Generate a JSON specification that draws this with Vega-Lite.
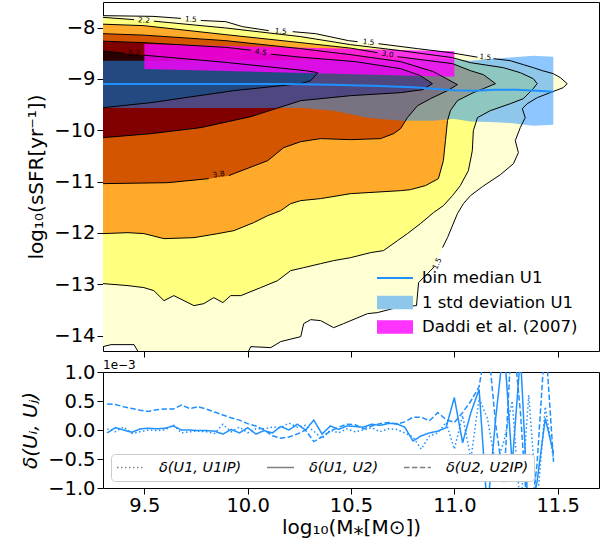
{
  "$schema": "https://vega.github.io/schema/vega-lite/v6.json",
  "padding": {"left": 20, "top": 1, "right": 14, "bottom": 2},
  "bounds": "flush",
  "spacing": 21,
  "config": {
    "font": "DejaVu Sans",
    "view": {"stroke": "#000000", "strokeWidth": 1},
    "axis": {"grid": false, "domain": false, "tickColor": "#000000", "tickSize": 6, "tickWidth": 1, "labelColor": "#000000", "labelFont": "DejaVu Sans", "labelFontSize": 19.5, "labelPadding": 2, "titleFont": "DejaVu Sans", "titleFontSize": 20, "titleFontWeight": "normal", "titleColor": "#000000", "titlePadding": 7, "labelFlush": false, "labelOverlap": false},
    "legend": {"labelFont": "DejaVu Sans", "labelColor": "#000000", "labelLimit": 400}
  },
  "datasets": {
    "poly": [
      {"lev":1,"i":0,"seg":0,"x":9.3,"y":-7.766},{"lev":1,"i":1,"seg":0,"x":9.542,"y":-7.78},{"lev":1,"i":2,"seg":0,"x":9.677,"y":-7.819},
      {"lev":1,"i":3,"seg":1,"x":9.773,"y":-7.86},{"lev":1,"i":4,"seg":1,"x":9.894,"y":-7.883},{"lev":1,"i":5,"seg":1,"x":9.976,"y":-7.981},{"lev":1,"i":6,"seg":1,"x":10.102,"y":-8.058},
      {"lev":1,"i":7,"seg":2,"x":10.218,"y":-8.078},{"lev":1,"i":8,"seg":2,"x":10.329,"y":-8.117},{"lev":1,"i":9,"seg":2,"x":10.488,"y":-8.253},{"lev":1,"i":10,"seg":2,"x":10.532,"y":-8.273},
      {"lev":1,"i":11,"seg":3,"x":10.633,"y":-8.312},{"lev":1,"i":12,"seg":3,"x":10.822,"y":-8.409},{"lev":1,"i":13,"seg":3,"x":10.981,"y":-8.487},{"lev":1,"i":14,"seg":3,"x":11.112,"y":-8.575},
      {"lev":1,"i":15,"seg":4,"x":11.189,"y":-8.604},{"lev":1,"i":16,"seg":4,"x":11.271,"y":-8.643},{"lev":1,"i":17,"seg":4,"x":11.334,"y":-8.721},{"lev":1,"i":18,"seg":4,"x":11.382,"y":-8.779},
      {"lev":1,"i":19,"seg":4,"x":11.426,"y":-8.838},{"lev":1,"i":20,"seg":4,"x":11.479,"y":-8.896},{"lev":1,"i":21,"seg":4,"x":11.513,"y":-8.974},{"lev":1,"i":22,"seg":4,"x":11.546,"y":-9.091},
      {"lev":1,"i":23,"seg":4,"x":11.527,"y":-9.169},{"lev":1,"i":24,"seg":4,"x":11.464,"y":-9.266},{"lev":1,"i":25,"seg":4,"x":11.401,"y":-9.364},{"lev":1,"i":26,"seg":4,"x":11.353,"y":-9.481},
      {"lev":1,"i":27,"seg":4,"x":11.329,"y":-9.578},{"lev":1,"i":28,"seg":4,"x":11.343,"y":-9.753},{"lev":1,"i":29,"seg":4,"x":11.319,"y":-9.948},{"lev":1,"i":30,"seg":4,"x":11.295,"y":-10.201},
      {"lev":1,"i":31,"seg":4,"x":11.31,"y":-10.435},{"lev":1,"i":32,"seg":4,"x":11.286,"y":-10.65},{"lev":1,"i":33,"seg":4,"x":11.223,"y":-10.864},{"lev":1,"i":34,"seg":4,"x":11.136,"y":-11.098},
      {"lev":1,"i":35,"seg":4,"x":11.078,"y":-11.273},{"lev":1,"i":36,"seg":4,"x":11.044,"y":-11.429},{"lev":1,"i":37,"seg":4,"x":11.015,"y":-11.624},{"lev":1,"i":38,"seg":4,"x":10.967,"y":-12.091},
      {"lev":1,"i":39,"seg":4,"x":10.943,"y":-12.286},
      {"lev":1,"i":40,"seg":5,"x":10.904,"y":-12.656},{"lev":1,"i":41,"seg":5,"x":10.87,"y":-12.793},{"lev":1,"i":42,"seg":5,"x":10.827,"y":-12.968},{"lev":1,"i":43,"seg":5,"x":10.817,"y":-13.416},
      {"lev":1,"i":44,"seg":5,"x":10.74,"y":-13.435},{"lev":1,"i":45,"seg":5,"x":10.628,"y":-13.552},{"lev":1,"i":46,"seg":5,"x":10.58,"y":-13.572},{"lev":1,"i":47,"seg":5,"x":10.464,"y":-13.767},
      {"lev":1,"i":48,"seg":5,"x":10.416,"y":-13.845},{"lev":1,"i":49,"seg":5,"x":10.353,"y":-13.708},{"lev":1,"i":50,"seg":5,"x":10.305,"y":-13.689},{"lev":1,"i":51,"seg":5,"x":10.271,"y":-13.767},
      {"lev":1,"i":52,"seg":5,"x":10.257,"y":-14.02},{"lev":1,"i":53,"seg":5,"x":10.16,"y":-14.117},{"lev":1,"i":54,"seg":5,"x":10.112,"y":-14.234},{"lev":1,"i":55,"seg":5,"x":10.015,"y":-14.215},
      {"lev":1,"i":56,"seg":5,"x":9.991,"y":-14.41},{"lev":1,"i":57,"seg":5,"x":9.484,"y":-14.41},{"lev":1,"i":58,"seg":5,"x":9.45,"y":-14.176},{"lev":1,"i":59,"seg":5,"x":9.339,"y":-14.176},
      {"lev":1,"i":60,"seg":5,"x":9.3,"y":-14.215},

      {"lev":2,"i":0,"seg":0,"x":9.3,"y":-7.799},{"lev":2,"i":1,"seg":0,"x":9.45,"y":-7.844},
      {"lev":2,"i":2,"seg":1,"x":9.546,"y":-7.873},{"lev":2,"i":3,"seg":1,"x":9.894,"y":-8.006},{"lev":2,"i":4,"seg":1,"x":10.257,"y":-8.175},{"lev":2,"i":5,"seg":1,"x":10.498,"y":-8.331},
      {"lev":2,"i":6,"seg":1,"x":10.74,"y":-8.448},{"lev":2,"i":7,"seg":1,"x":10.991,"y":-8.584},{"lev":2,"i":8,"seg":1,"x":11.078,"y":-8.682},{"lev":2,"i":9,"seg":1,"x":11.237,"y":-8.779},
      {"lev":2,"i":10,"seg":1,"x":11.319,"y":-8.877},{"lev":2,"i":11,"seg":1,"x":11.382,"y":-8.994},{"lev":2,"i":12,"seg":1,"x":11.401,"y":-9.091},{"lev":2,"i":13,"seg":1,"x":11.382,"y":-9.188},
      {"lev":2,"i":14,"seg":1,"x":11.334,"y":-9.383},{"lev":2,"i":15,"seg":1,"x":11.271,"y":-9.481},{"lev":2,"i":16,"seg":1,"x":11.174,"y":-9.617},{"lev":2,"i":17,"seg":1,"x":11.112,"y":-9.753},
      {"lev":2,"i":18,"seg":1,"x":11.092,"y":-10.007},{"lev":2,"i":19,"seg":1,"x":11.087,"y":-10.396},{"lev":2,"i":20,"seg":1,"x":11.068,"y":-10.786},{"lev":2,"i":21,"seg":1,"x":11.029,"y":-11.078},
      {"lev":2,"i":22,"seg":1,"x":10.991,"y":-11.273},{"lev":2,"i":23,"seg":1,"x":10.947,"y":-11.468},{"lev":2,"i":24,"seg":1,"x":10.899,"y":-11.604},{"lev":2,"i":25,"seg":1,"x":10.836,"y":-11.818},
      {"lev":2,"i":26,"seg":1,"x":10.773,"y":-12.013},{"lev":2,"i":27,"seg":1,"x":10.725,"y":-12.15},{"lev":2,"i":28,"seg":1,"x":10.657,"y":-12.344},{"lev":2,"i":29,"seg":1,"x":10.595,"y":-12.383},
      {"lev":2,"i":30,"seg":1,"x":10.498,"y":-12.481},{"lev":2,"i":31,"seg":1,"x":10.416,"y":-12.539},{"lev":2,"i":32,"seg":1,"x":10.353,"y":-12.598},{"lev":2,"i":33,"seg":1,"x":10.271,"y":-12.676},
      {"lev":2,"i":34,"seg":1,"x":10.208,"y":-12.734},{"lev":2,"i":35,"seg":1,"x":10.145,"y":-12.929},{"lev":2,"i":36,"seg":1,"x":10.063,"y":-13.065},{"lev":2,"i":37,"seg":1,"x":9.967,"y":-13.221},
      {"lev":2,"i":38,"seg":1,"x":9.918,"y":-13.221},{"lev":2,"i":39,"seg":1,"x":9.88,"y":-13.357},{"lev":2,"i":40,"seg":1,"x":9.836,"y":-13.26},{"lev":2,"i":41,"seg":1,"x":9.788,"y":-13.377},
      {"lev":2,"i":42,"seg":1,"x":9.74,"y":-13.416},{"lev":2,"i":43,"seg":1,"x":9.643,"y":-13.221},{"lev":2,"i":44,"seg":1,"x":9.595,"y":-13.319},{"lev":2,"i":45,"seg":1,"x":9.546,"y":-13.124},
      {"lev":2,"i":46,"seg":1,"x":9.498,"y":-13.065},{"lev":2,"i":47,"seg":1,"x":9.421,"y":-13.026},{"lev":2,"i":48,"seg":1,"x":9.3,"y":-12.987},

      {"lev":3,"i":0,"seg":0,"x":9.3,"y":-7.932},{"lev":3,"i":1,"seg":0,"x":9.498,"y":-7.961},{"lev":3,"i":2,"seg":0,"x":9.894,"y":-8.136},{"lev":3,"i":3,"seg":0,"x":10.257,"y":-8.292},
      {"lev":3,"i":4,"seg":0,"x":10.498,"y":-8.399},{"lev":3,"i":5,"seg":0,"x":10.628,"y":-8.487},
      {"lev":3,"i":6,"seg":1,"x":10.725,"y":-8.565},{"lev":3,"i":7,"seg":1,"x":10.991,"y":-8.701},{"lev":3,"i":8,"seg":1,"x":11.078,"y":-8.838},{"lev":3,"i":9,"seg":1,"x":11.141,"y":-8.916},
      {"lev":3,"i":10,"seg":1,"x":11.199,"y":-9.091},{"lev":3,"i":11,"seg":1,"x":11.141,"y":-9.188},{"lev":3,"i":12,"seg":1,"x":11.092,"y":-9.266},{"lev":3,"i":13,"seg":1,"x":11.015,"y":-9.422},
      {"lev":3,"i":14,"seg":1,"x":10.981,"y":-9.617},{"lev":3,"i":15,"seg":1,"x":10.967,"y":-9.812},{"lev":3,"i":16,"seg":1,"x":10.957,"y":-10.201},{"lev":3,"i":17,"seg":1,"x":10.947,"y":-10.591},
      {"lev":3,"i":18,"seg":1,"x":10.923,"y":-10.942},{"lev":3,"i":19,"seg":1,"x":10.86,"y":-11.078},{"lev":3,"i":20,"seg":1,"x":10.788,"y":-11.156},{"lev":3,"i":21,"seg":1,"x":10.74,"y":-11.176},
      {"lev":3,"i":22,"seg":1,"x":10.498,"y":-11.234},{"lev":3,"i":23,"seg":1,"x":10.353,"y":-11.331},{"lev":3,"i":24,"seg":1,"x":10.257,"y":-11.37},{"lev":3,"i":25,"seg":1,"x":10.208,"y":-11.429},
      {"lev":3,"i":26,"seg":1,"x":10.16,"y":-11.565},{"lev":3,"i":27,"seg":1,"x":10.097,"y":-11.663},{"lev":3,"i":28,"seg":1,"x":10.029,"y":-11.799},{"lev":3,"i":29,"seg":1,"x":9.933,"y":-11.955},
      {"lev":3,"i":30,"seg":1,"x":9.856,"y":-12.013},{"lev":3,"i":31,"seg":1,"x":9.74,"y":-12.091},{"lev":3,"i":32,"seg":1,"x":9.595,"y":-12.111},{"lev":3,"i":33,"seg":1,"x":9.498,"y":-12.013},
      {"lev":3,"i":34,"seg":1,"x":9.421,"y":-11.994},{"lev":3,"i":35,"seg":1,"x":9.3,"y":-12.013},

      {"lev":4,"i":0,"seg":0,"x":9.3,"y":-8.117},{"lev":4,"i":1,"seg":0,"x":9.498,"y":-8.146},{"lev":4,"i":2,"seg":0,"x":9.894,"y":-8.253},{"lev":4,"i":3,"seg":0,"x":10.257,"y":-8.409},
      {"lev":4,"i":4,"seg":0,"x":10.498,"y":-8.526},{"lev":4,"i":5,"seg":0,"x":10.74,"y":-8.662},{"lev":4,"i":6,"seg":0,"x":10.899,"y":-8.857},{"lev":4,"i":7,"seg":0,"x":11.015,"y":-9.11},
      {"lev":4,"i":8,"seg":0,"x":10.967,"y":-9.227},{"lev":4,"i":9,"seg":0,"x":10.885,"y":-9.383},{"lev":4,"i":10,"seg":0,"x":10.822,"y":-9.52},{"lev":4,"i":11,"seg":0,"x":10.773,"y":-9.753},
      {"lev":4,"i":12,"seg":0,"x":10.74,"y":-9.968},{"lev":4,"i":13,"seg":0,"x":10.706,"y":-10.065},{"lev":4,"i":14,"seg":0,"x":10.643,"y":-10.162},{"lev":4,"i":15,"seg":0,"x":10.498,"y":-10.182},
      {"lev":4,"i":16,"seg":0,"x":10.353,"y":-10.162},{"lev":4,"i":17,"seg":0,"x":10.257,"y":-10.221},{"lev":4,"i":18,"seg":0,"x":10.174,"y":-10.338},{"lev":4,"i":19,"seg":0,"x":10.097,"y":-10.591},
      {"lev":4,"i":20,"seg":0,"x":9.933,"y":-10.844},{"lev":4,"i":21,"seg":0,"x":9.909,"y":-10.883},
      {"lev":4,"i":22,"seg":1,"x":9.812,"y":-10.942},{"lev":4,"i":23,"seg":1,"x":9.614,"y":-11.02},{"lev":4,"i":24,"seg":1,"x":9.3,"y":-11.039},

      {"lev":5,"i":0,"seg":0,"x":9.3,"y":-8.263},{"lev":5,"i":1,"seg":0,"x":9.498,"y":-8.292},{"lev":5,"i":2,"seg":0,"x":9.894,"y":-8.384},{"lev":5,"i":3,"seg":0,"x":10.015,"y":-8.438},
      {"lev":5,"i":4,"seg":1,"x":10.112,"y":-8.516},{"lev":5,"i":5,"seg":1,"x":10.257,"y":-8.575},{"lev":5,"i":6,"seg":1,"x":10.522,"y":-8.662},{"lev":5,"i":7,"seg":1,"x":10.74,"y":-8.799},
      {"lev":5,"i":8,"seg":1,"x":10.836,"y":-8.935},{"lev":5,"i":9,"seg":1,"x":10.894,"y":-9.091},{"lev":5,"i":10,"seg":1,"x":10.846,"y":-9.208},{"lev":5,"i":11,"seg":1,"x":10.74,"y":-9.266},
      {"lev":5,"i":12,"seg":1,"x":10.498,"y":-9.325},{"lev":5,"i":13,"seg":1,"x":10.257,"y":-9.422},{"lev":5,"i":14,"seg":1,"x":10.015,"y":-9.734},{"lev":5,"i":15,"seg":1,"x":9.773,"y":-9.948},
      {"lev":5,"i":16,"seg":1,"x":9.532,"y":-10.065},{"lev":5,"i":17,"seg":1,"x":9.3,"y":-10.143},

      {"lev":6,"i":0,"seg":0,"x":9.3,"y":-8.458},{"lev":6,"i":1,"seg":0,"x":9.401,"y":-8.497},
      {"lev":6,"i":2,"seg":1,"x":9.498,"y":-8.536},{"lev":6,"i":3,"seg":1,"x":9.894,"y":-8.676},{"lev":6,"i":4,"seg":1,"x":10.281,"y":-8.838},{"lev":6,"i":5,"seg":1,"x":10.339,"y":-8.877},
      {"lev":6,"i":6,"seg":1,"x":10.305,"y":-9.033},{"lev":6,"i":7,"seg":1,"x":10.257,"y":-9.091},{"lev":6,"i":8,"seg":1,"x":9.933,"y":-9.227},{"lev":6,"i":9,"seg":1,"x":9.532,"y":-9.461},
      {"lev":6,"i":10,"seg":1,"x":9.3,"y":-9.559}
    ],
    "band": [
      {"x":9.3,"hi":-8.643,"lo":-9.559},{"x":9.53,"hi":-8.643,"lo":-9.565},{"x":9.77,"hi":-8.64,"lo":-9.565},{"x":10.015,"hi":-8.635,"lo":-9.565},
      {"x":10.257,"hi":-8.63,"lo":-9.56},{"x":10.416,"hi":-8.63,"lo":-9.617},{"x":10.58,"hi":-8.625,"lo":-9.753},{"x":10.74,"hi":-8.62,"lo":-9.812},
      {"x":10.899,"hi":-8.615,"lo":-9.812},{"x":10.995,"hi":-8.61,"lo":-9.773},{"x":11.078,"hi":-8.643,"lo":-9.83},{"x":11.174,"hi":-8.61,"lo":-9.84},
      {"x":11.271,"hi":-8.58,"lo":-9.86},{"x":11.382,"hi":-8.545,"lo":-9.91},{"x":11.479,"hi":-8.565,"lo":-9.89}
    ],
    "median": [
      {"x":9.3,"y":-9.1},{"x":9.6,"y":-9.1},{"x":9.9,"y":-9.1},{"x":10.2,"y":-9.1},{"x":10.4,"y":-9.11},{"x":10.6,"y":-9.13},
      {"x":10.8,"y":-9.16},{"x":10.9,"y":-9.19},{"x":11.0,"y":-9.22},{"x":11.1,"y":-9.23},{"x":11.2,"y":-9.21},{"x":11.3,"y":-9.21},
      {"x":11.4,"y":-9.23},{"x":11.479,"y":-9.25}
    ],
    "daddi": [
      {"x":9.5,"hi":-8.318,"lo":-8.805},{"x":11.0,"hi":-8.462,"lo":-8.955}
    ],
    "legendrows": [
      {"name":"bin median U1"},{"name":"1 std deviation U1"},{"name":"Daddi et al. (2007)"}
    ],
    "clab": [
      {"lbl":"2.2","x":9.498,"y":-7.864},{"lbl":"1.5","x":9.725,"y":-7.844},{"lbl":"1.5","x":10.16,"y":-8.078},
      {"lbl":"1.5","x":10.585,"y":-8.292},{"lbl":"1.5","x":11.15,"y":-8.584},{"lbl":"5.2","x":9.45,"y":-8.507},
      {"lbl":"4.5","x":10.063,"y":-8.487},{"lbl":"3.0","x":10.677,"y":-8.526},{"lbl":"3.8","x":9.86,"y":-10.864},
      {"lbl":"1.5","x":10.918,"y":-12.598}
    ],
    "delta": [
      {"x":9.32,"u1ip":0.02,"u1u2":-0.05,"u2ip":0.45},{"x":9.36,"u1ip":-0.03,"u1u2":0.04,"u2ip":0.44},{"x":9.40,"u1ip":0.05,"u1u2":0.0,"u2ip":0.40},
      {"x":9.44,"u1ip":-0.06,"u1u2":-0.04,"u2ip":0.37},{"x":9.48,"u1ip":-0.03,"u1u2":0.02,"u2ip":0.34},{"x":9.52,"u1ip":0.0,"u1u2":0.03,"u2ip":0.32},
      {"x":9.56,"u1ip":-0.01,"u1u2":0.02,"u2ip":0.35},{"x":9.60,"u1ip":0.0,"u1u2":0.03,"u2ip":0.36},{"x":9.64,"u1ip":0.09,"u1u2":0.07,"u2ip":0.36},
      {"x":9.68,"u1ip":-0.05,"u1u2":0.0,"u2ip":0.43},{"x":9.72,"u1ip":-0.03,"u1u2":0.0,"u2ip":0.37},{"x":9.76,"u1ip":-0.02,"u1u2":-0.01,"u2ip":0.40},
      {"x":9.80,"u1ip":-0.03,"u1u2":-0.01,"u2ip":0.36},{"x":9.84,"u1ip":-0.06,"u1u2":-0.02,"u2ip":0.31},{"x":9.88,"u1ip":0.10,"u1u2":-0.07,"u2ip":0.26},
      {"x":9.92,"u1ip":-0.03,"u1u2":0.01,"u2ip":0.21},{"x":9.96,"u1ip":0.05,"u1u2":-0.05,"u2ip":0.17},{"x":10.00,"u1ip":-0.05,"u1u2":0.04,"u2ip":0.11},
      {"x":10.04,"u1ip":0.02,"u1u2":-0.07,"u2ip":0.07},{"x":10.08,"u1ip":0.02,"u1u2":-0.01,"u2ip":0.0},{"x":10.12,"u1ip":0.05,"u1u2":-0.05,"u2ip":-0.10},
      {"x":10.16,"u1ip":0.04,"u1u2":0.06,"u2ip":-0.14},{"x":10.20,"u1ip":0.12,"u1u2":0.0,"u2ip":-0.12},{"x":10.24,"u1ip":0.05,"u1u2":0.10,"u2ip":-0.07},
      {"x":10.28,"u1ip":0.08,"u1u2":0.0,"u2ip":0.0},{"x":10.32,"u1ip":-0.02,"u1u2":0.17,"u2ip":-0.20},{"x":10.36,"u1ip":-0.15,"u1u2":-0.07,"u2ip":-0.12},
      {"x":10.40,"u1ip":0.0,"u1u2":0.07,"u2ip":-0.02},{"x":10.44,"u1ip":-0.05,"u1u2":0.01,"u2ip":0.05},{"x":10.48,"u1ip":0.02,"u1u2":0.07,"u2ip":0.10},
      {"x":10.52,"u1ip":-0.03,"u1u2":0.06,"u2ip":0.09},{"x":10.56,"u1ip":0.0,"u1u2":0.05,"u2ip":0.02},{"x":10.60,"u1ip":0.04,"u1u2":0.10,"u2ip":0.07},
      {"x":10.64,"u1ip":-0.03,"u1u2":0.08,"u2ip":0.11},{"x":10.68,"u1ip":0.02,"u1u2":0.11,"u2ip":0.13},{"x":10.72,"u1ip":0.01,"u1u2":0.11,"u2ip":0.10},
      {"x":10.76,"u1ip":-0.05,"u1u2":0.05,"u2ip":0.14},{"x":10.80,"u1ip":-0.12,"u1u2":-0.19,"u2ip":0.22},{"x":10.84,"u1ip":-0.33,"u1u2":-0.10,"u2ip":0.22},
      {"x":10.88,"u1ip":-0.10,"u1u2":-0.05,"u2ip":0.16},{"x":10.92,"u1ip":-0.05,"u1u2":-0.02,"u2ip":0.30},{"x":10.96,"u1ip":0.13,"u1u2":0.04,"u2ip":0.18},
      {"x":11.00,"u1ip":-0.33,"u1u2":0.56,"u2ip":0.13},{"x":11.04,"u1ip":0.25,"u1u2":-0.22,"u2ip":0.30},{"x":11.08,"u1ip":-0.50,"u1u2":0.30,"u2ip":0.50},
      {"x":11.12,"u1ip":0.55,"u1u2":0.70,"u2ip":0.75},{"x":11.16,"u1ip":0.20,"u1u2":-1.40,"u2ip":1.60},{"x":11.20,"u1ip":-0.60,"u1u2":0.20,"u2ip":0.10},
      {"x":11.24,"u1ip":-0.20,"u1u2":1.50,"u2ip":-0.90},{"x":11.28,"u1ip":0.50,"u1u2":-0.60,"u2ip":1.80},{"x":11.32,"u1ip":-1.40,"u1u2":1.30,"u2ip":0.30},
      {"x":11.36,"u1ip":0.60,"u1u2":-1.60,"u2ip":-1.80},{"x":11.40,"u1ip":-1.30,"u1u2":-0.90,"u2ip":-0.60},{"x":11.44,"u1ip":0.40,"u1u2":0.20,"u2ip":1.60},
      {"x":11.48,"u1ip":-0.50,"u1u2":-0.40,"u2ip":-0.55}
    ]
  },
  "vconcat": [
    {
      "width": 496,
      "height": 349,
      "layer": [
        {
          "data": {"name": "poly"},
          "transform": [{"filter": "datum.lev == 1"}],
          "mark": {"type": "line", "fill": "#ffffd4", "strokeWidth": 0, "strokeOpacity": 0, "clip": true},
          "encoding": {
            "x": {"field": "x", "type": "quantitative", "scale": {"domain": [9.3, 11.7], "nice": false, "zero": false}, "axis": {"values": [9.5, 10, 10.5, 11, 11.5], "labels": false, "title": null}},
            "y": {"field": "y", "type": "quantitative", "scale": {"domain": [-14.3, -7.5], "nice": false, "zero": false}, "axis": {"values": [-8, -9, -10, -11, -12, -13, -14], "format": "d", "title": "log₁₀(sSFR[yr⁻¹])"}},
            "order": {"field": "i", "type": "quantitative"}
          }
        },
        {
          "data": {"name": "poly"},
          "transform": [{"filter": "datum.lev == 2"}],
          "mark": {"type": "line", "fill": "#ffff80", "strokeWidth": 0, "strokeOpacity": 0, "clip": true},
          "encoding": {
            "x": {"field": "x", "type": "quantitative"},
            "y": {"field": "y", "type": "quantitative"},
            "order": {"field": "i", "type": "quantitative"}
          }
        },
        {
          "data": {"name": "poly"},
          "transform": [{"filter": "datum.lev == 3"}],
          "mark": {"type": "line", "fill": "#ffaa2a", "strokeWidth": 0, "strokeOpacity": 0, "clip": true},
          "encoding": {
            "x": {"field": "x", "type": "quantitative"},
            "y": {"field": "y", "type": "quantitative"},
            "order": {"field": "i", "type": "quantitative"}
          }
        },
        {
          "data": {"name": "poly"},
          "transform": [{"filter": "datum.lev == 4"}],
          "mark": {"type": "line", "fill": "#d45500", "strokeWidth": 0, "strokeOpacity": 0, "clip": true},
          "encoding": {
            "x": {"field": "x", "type": "quantitative"},
            "y": {"field": "y", "type": "quantitative"},
            "order": {"field": "i", "type": "quantitative"}
          }
        },
        {
          "data": {"name": "poly"},
          "transform": [{"filter": "datum.lev == 5"}],
          "mark": {"type": "line", "fill": "#800000", "strokeWidth": 0, "strokeOpacity": 0, "clip": true},
          "encoding": {
            "x": {"field": "x", "type": "quantitative"},
            "y": {"field": "y", "type": "quantitative"},
            "order": {"field": "i", "type": "quantitative"}
          }
        },
        {
          "data": {"name": "poly"},
          "transform": [{"filter": "datum.lev == 6"}],
          "mark": {"type": "line", "fill": "#2a0000", "strokeWidth": 0, "strokeOpacity": 0, "clip": true},
          "encoding": {
            "x": {"field": "x", "type": "quantitative"},
            "y": {"field": "y", "type": "quantitative"},
            "order": {"field": "i", "type": "quantitative"}
          }
        },
        {
          "data": {"name": "band"},
          "mark": {"type": "area", "color": "#1e90ff", "fillOpacity": 0.5, "clip": true},
          "encoding": {
            "x": {"field": "x", "type": "quantitative"},
            "y": {"field": "hi", "type": "quantitative"},
            "y2": {"field": "lo"}
          }
        },
        {
          "data": {"name": "daddi"},
          "mark": {"type": "area", "color": "#ff00ff", "fillOpacity": 0.8, "clip": true},
          "encoding": {
            "x": {"field": "x", "type": "quantitative"},
            "y": {"field": "hi", "type": "quantitative"},
            "y2": {"field": "lo"}
          }
        },
        {
          "data": {"name": "poly"},
          "mark": {"type": "line", "stroke": "#000000", "strokeWidth": 1, "clip": true},
          "encoding": {
            "x": {"field": "x", "type": "quantitative"},
            "y": {"field": "y", "type": "quantitative"},
            "detail": [{"field": "lev", "type": "nominal"}, {"field": "seg", "type": "nominal"}],
            "order": {"field": "i", "type": "quantitative"}
          }
        },
        {
          "data": {"name": "median"},
          "mark": {"type": "line", "color": "#1e90ff", "strokeWidth": 2, "clip": true},
          "encoding": {
            "x": {"field": "x", "type": "quantitative"},
            "y": {"field": "y", "type": "quantitative"}
          }
        },
        {
          "data": {"name": "legendrows"},
          "mark": {"type": "square", "filled": true, "opacity": 0, "size": 1},
          "encoding": {
            "x": {"datum": 10.0, "type": "quantitative"},
            "y": {"datum": -9.0, "type": "quantitative"},
            "color": {
              "field": "name",
              "type": "nominal",
              "scale": {"domain": ["bin median U1", "1 std deviation U1", "Daddi et al. (2007)"], "range": ["#1e90ff", "#8ec7e9", "#ff33ff"]},
              "legend": {
                "orient": "none",
                "legendX": 274,
                "legendY": 266,
                "title": null,
                "padding": 0,
                "symbolSize": 1296,
                "symbolStrokeColor": "transparent",
                "symbolStrokeWidth": 0,
                "symbolOpacity": 1,
                "clipHeight": 20,
                "rowPadding": 4.5,
                "labelFontSize": 16.5,
                "labelOffset": 9,
                "encode": {
                  "symbols": {
                    "update": {
                      "shape": {"signal": "datum.value == 'bin median U1' ? 'M-1,-0.06H1V0.06H-1Z' : 'M-1,-0.37H1V0.37H-1Z'"},
                      "opacity": {"value": 1}
                    }
                  }
                }
              }
            }
          }
        },
        {
          "data": {"name": "clab"},
          "transform": [{"filter": "datum.y > -8.6 && datum.lbl != '4.5' && datum.lbl != '3.0'"}],
          "mark": {"type": "text", "fontSize": 7.5, "color": "#000000", "angle": 5, "align": "center", "baseline": "middle"},
          "encoding": {
            "x": {"field": "x", "type": "quantitative"},
            "y": {"field": "y", "type": "quantitative"},
            "text": {"field": "lbl"}
          }
        },
        {
          "data": {"name": "clab"},
          "transform": [{"filter": "datum.lbl == '4.5' || datum.lbl == '3.0'"}],
          "mark": {"type": "text", "fontSize": 7.5, "color": "#000000", "angle": 10, "align": "center", "baseline": "middle"},
          "encoding": {
            "x": {"field": "x", "type": "quantitative"},
            "y": {"field": "y", "type": "quantitative"},
            "text": {"field": "lbl"}
          }
        },
        {
          "data": {"name": "clab"},
          "transform": [{"filter": "datum.lbl == '3.8'"}],
          "mark": {"type": "text", "fontSize": 7.5, "color": "#000000", "angle": -8, "align": "center", "baseline": "middle"},
          "encoding": {
            "x": {"field": "x", "type": "quantitative"},
            "y": {"field": "y", "type": "quantitative"},
            "text": {"field": "lbl"}
          }
        },
        {
          "data": {"name": "clab"},
          "transform": [{"filter": "datum.y < -12"}],
          "mark": {"type": "text", "fontSize": 7.5, "color": "#000000", "angle": -65, "align": "center", "baseline": "middle"},
          "encoding": {
            "x": {"field": "x", "type": "quantitative"},
            "y": {"field": "y", "type": "quantitative"},
            "text": {"field": "lbl"}
          }
        }
      ]
    },
    {
      "width": 496,
      "height": 116,
      "title": {"text": "1e−3", "anchor": "start", "frame": "group", "fontSize": 12, "fontWeight": "normal", "font": "DejaVu Sans", "color": "#000000", "offset": 2, "dy": 12},
      "data": {"name": "delta"},
      "transform": [{"fold": ["u1ip", "u1u2", "u2ip"], "as": ["pair", "v"]}],
      "mark": {"type": "line", "strokeWidth": 1.5, "color": "#1e90ff", "clip": true},
      "encoding": {
        "x": {"field": "x", "type": "quantitative", "scale": {"domain": [9.3, 11.7], "nice": false, "zero": false}, "axis": {"values": [9.5, 10, 10.5, 11, 11.5], "format": ".1f", "title": "log₁₀(M⁎[M⊙])", "titlePadding": 3}},
        "y": {"field": "v", "type": "quantitative", "scale": {"domain": [-1, 1], "nice": false}, "axis": {"values": [-1, -0.5, 0, 0.5, 1], "format": ".1f", "title": "δ(Uᵢ, Uⱼ)", "titleFontStyle": "italic"}},
        "strokeDash": {
          "field": "pair",
          "type": "nominal",
          "scale": {"domain": ["u1ip", "u1u2", "u2ip"], "range": [[1.5, 2.5], [1, 0], [5.5, 2.4]]},
          "legend": {
            "orient": "none",
            "legendX": 8,
            "legendY": 452,
            "direction": "horizontal",
            "title": null,
            "symbolType": "stroke",
            "symbolSize": 729,
            "symbolStrokeWidth": 1.5,
            "symbolStrokeColor": "#808080",
            "clipHeight": 17,
            "labelFontSize": 14.5,
            "labelFontStyle": "italic",
            "labelOffset": 14,
            "columnPadding": 24,
            "padding": 5,
            "fillColor": "#ffffff",
            "strokeColor": "#cccccc",
            "cornerRadius": 4,
            "labelExpr": "datum.value == 'u1ip' ? 'δ(U1, U1IP)' : (datum.value == 'u1u2' ? 'δ(U1, U2)' : 'δ(U2, U2IP)')"
          }
        }
      }
    }
  ]
}
